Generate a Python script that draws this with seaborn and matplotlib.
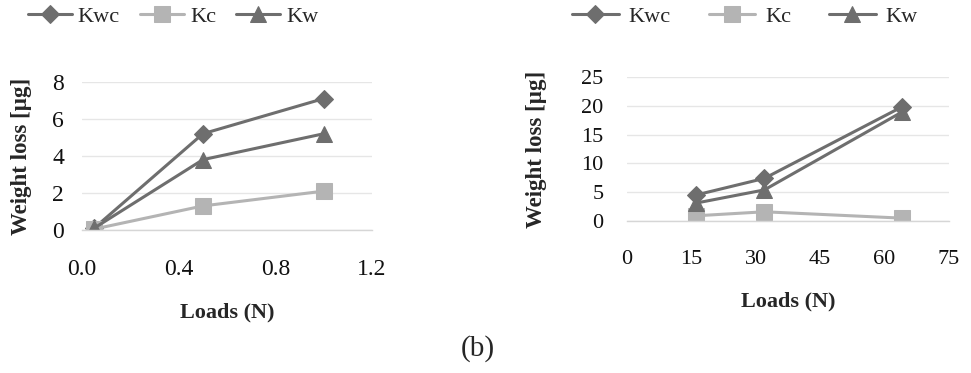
import numpy as np
import pandas as pd
import matplotlib
matplotlib.use("Agg")
import matplotlib.pyplot as plt
import seaborn as sns

# panel (left): low loads
loads_low = [0.05, 0.5, 1.0]
kwc_low = [0.1, 5.2, 7.1]
kc_low = [0.05, 1.3, 2.1]
kw_low = [0.1, 3.8, 5.2]

# panel (right): high loads
loads_high = [16, 32, 64]
kwc_high = [4.5, 7.4, 19.8]
kc_high = [0.9, 1.6, 0.5]
kw_high = [3.1, 5.4, 18.9]

series = ["Kwc", "Kc", "Kw"]
palette = {"Kwc": "#6e6e6e", "Kc": "#b4b4b4", "Kw": "#6e6e6e"}
markers = {"Kwc": "D", "Kc": "s", "Kw": "^"}
msizes = {"Kwc": 9, "Kc": 11, "Kw": 12}


def to_long(x, kwc, kc, kw):
    rows = []
    for name, vals in zip(series, [kwc, kc, kw]):
        for xi, yi in zip(x, vals):
            rows.append({"Load": xi, "Loss": yi, "Series": name})
    return pd.DataFrame(rows)


sns.set_theme(style="white")
plt.rcParams["font.family"] = ["Liberation Serif", "DejaVu Serif"]

fig = plt.figure(figsize=(9.71, 3.73), dpi=100)
ax1 = fig.add_axes([0.0845, 0.3834, 0.2987, 0.397])
ax2 = fig.add_axes([0.6457, 0.4075, 0.3316, 0.386])


def draw(ax, df, xticks, yticks, tsize, ypad):
    for name in series:
        sub = df[df["Series"] == name]
        sns.lineplot(data=sub, x="Load", y="Loss", ax=ax, color=palette[name],
                     marker=markers[name], markersize=msizes[name], lw=2.2,
                     markeredgecolor=palette[name], label=name, legend=False)
    ax.set_xlim(xticks[0], xticks[-1])
    ax.set_ylim(yticks[0], yticks[-1])
    ax.set_xticks(xticks)
    ax.set_yticks(yticks)
    ax.yaxis.grid(True, color="#e6e6e6", lw=1)
    ax.xaxis.grid(False)
    for s in ["top", "right", "left"]:
        ax.spines[s].set_visible(False)
    ax.spines["bottom"].set_color("#d6d6d6")
    ax.spines["bottom"].set_linewidth(1)
    ax.tick_params(axis="x", direction="out", length=8, color="#d6d6d6",
                   width=1, labelsize=tsize, pad=13)
    ax.tick_params(axis="y", direction="out", length=6, color="#e6e6e6",
                   width=1, labelsize=tsize, pad=ypad - 4)
    ax.set_xlabel("Loads (N)", fontsize=16, fontweight="bold", labelpad=16)
    ax.set_ylabel("Weight loss [µg]", fontsize=16.5, fontweight="bold")
    for lab in ax.get_xticklabels() + ax.get_yticklabels():
        lab.set_color("#111111")


df_low = to_long(loads_low, kwc_low, kc_low, kw_low)
df_high = to_long(loads_high, kwc_high, kc_high, kw_high)

draw(ax1, df_low, [0.0, 0.4, 0.8, 1.2], [0, 2, 4, 6, 8], 17, 11)
ax1.set_xticklabels(["0.0", "0.4", "0.8", "1.2"])
draw(ax2, df_high, [0, 15, 30, 45, 60, 75], [0, 5, 10, 15, 20, 25], 16, 15)

ax1.yaxis.set_label_coords(-0.172, 0.5)
ax2.yaxis.set_label_coords(-0.248, 0.5)

handles, labels = ax1.get_legend_handles_labels()
fig.legend(handles, labels, loc="center", bbox_to_anchor=(173 / 971, 1 - 17 / 373),
           ncol=3, frameon=False, fontsize=16, handlelength=2.0,
           columnspacing=0.9, handletextpad=0.25)
handles, labels = ax2.get_legend_handles_labels()
fig.legend(handles, labels, loc="center", bbox_to_anchor=(745 / 971, 1 - 17 / 373),
           ncol=3, frameon=False, fontsize=16, handlelength=2.1,
           columnspacing=1.7, handletextpad=0.45)

fig.text(478 / 971, 1 - 349 / 373, "(b)", ha="center", va="center", fontsize=21)

fig.savefig("out.png", dpi=100)
